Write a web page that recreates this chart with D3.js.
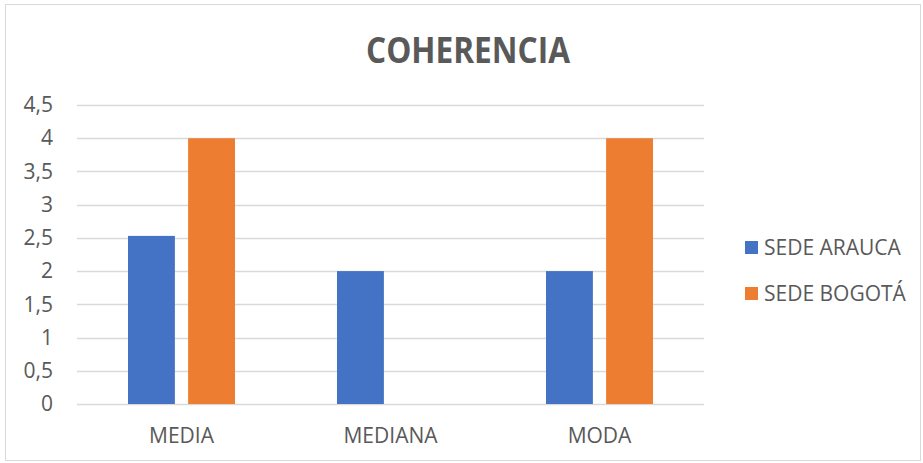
<!DOCTYPE html>
<html>
<head>
<meta charset="utf-8">
<script src="https://cdn.jsdelivr.net/npm/d3@7"></script>
<style>
  body { margin: 0; background: #fff; }
  text { font-family: "Open Sans", "Noto Sans", sans-serif; fill: #595959; }
</style>
</head>
<body>
<div id="chart"></div>
<script>
const svgWidth = 923;
const svgHeight = 463;

// data
const categories = ["MEDIA", "MEDIANA", "MODA"];
const seriesNames = ["SEDE ARAUCA", "SEDE BOGOTÁ"];
const seriesColors = ["#4472c4", "#ed7d31"];
const sedeArauca = [2.53, 2, 2];
const sedeBogota = [4, 0, 4];
const yTicks = [0, 0.5, 1, 1.5, 2, 2.5, 3, 3.5, 4, 4.5];

const margin = { top: 105, left: 77, right: 219, bottom: 59 };
const width = svgWidth - margin.left - margin.right;
const height = svgHeight - margin.top - margin.bottom;

const svg = d3.select("#chart").append("svg")
  .attr("width", svgWidth)
  .attr("height", svgHeight);

// outer border
svg.append("rect")
  .attr("x", 5.5).attr("y", 4.5)
  .attr("width", svgWidth - 8).attr("height", svgHeight - 7)
  .attr("fill", "none")
  .attr("stroke", "#d9d9d9");

svg.append("text")
  .attr("x", 468)
  .attr("y", 63)
  .attr("text-anchor", "middle")
  .attr("font-size", 36)
  .attr("font-weight", "bold")
  .attr("textLength", 204)
  .attr("lengthAdjust", "spacingAndGlyphs")
  .text("COHERENCIA");

const chartGroup = svg.append("g")
  .attr("transform", `translate(${margin.left}, ${margin.top})`);

const x0 = d3.scaleBand().domain(categories).range([0, width]);
const x1 = d3.scaleBand().domain(seriesNames)
  .range([51, x0.bandwidth() - 51]).paddingInner(0.22);
const y = d3.scaleLinear().domain([0, 4.5]).range([height, 0]);

// grid
chartGroup.selectAll(".grid")
  .data(yTicks)
  .enter()
  .append("line")
  .attr("x1", 0).attr("x2", width)
  .attr("y1", d => Math.round(y(d)) + 0.5)
  .attr("y2", d => Math.round(y(d)) + 0.5)
  .attr("stroke", "#d9d9d9")
  .attr("stroke-width", 1.3);

// y axis labels
const leftAxis = d3.axisLeft(y).tickValues(yTicks).tickSize(0).tickPadding(24)
  .tickFormat(d => String(d).replace(".", ","));
chartGroup.append("g").call(leftAxis)
  .call(g => g.select(".domain").remove())
  .selectAll("text")
  .attr("font-size", 21)
  .attr("fill", "#595959");

// x axis labels
const bottomAxis = d3.axisBottom(x0).tickSize(0).tickPadding(24);
chartGroup.append("g")
  .attr("transform", `translate(0, ${height})`)
  .call(bottomAxis)
  .call(g => g.select(".domain").remove())
  .selectAll("text")
  .attr("font-size", 21)
  .attr("fill", "#595959");

// bars
const rows = categories.map((c, i) => ({ cat: c, vals: [sedeArauca[i], sedeBogota[i]] }));
const groups = chartGroup.selectAll(".grp")
  .data(rows)
  .enter()
  .append("g")
  .attr("transform", d => `translate(${x0(d.cat)}, 0)`);

groups.selectAll("rect")
  .data(d => d.vals.map((v, j) => ({ name: seriesNames[j], v: v, j: j })))
  .enter()
  .append("rect")
  .filter(d => d.v > 0)
  .attr("x", d => x1(d.name))
  .attr("width", x1.bandwidth())
  .attr("y", d => y(d.v))
  .attr("height", d => y(0) - y(d.v))
  .attr("fill", d => seriesColors[d.j]);

// legend
const legend = svg.append("g").attr("transform", "translate(745, 241)");
seriesNames.forEach((name, i) => {
  const g = legend.append("g").attr("transform", `translate(0, ${i * 46})`);
  g.append("rect").attr("width", 13).attr("height", 13).attr("fill", seriesColors[i]);
  g.append("text").attr("x", 19).attr("y", 14).attr("font-size", 21).text(name);
});
</script>
</body>
</html>
